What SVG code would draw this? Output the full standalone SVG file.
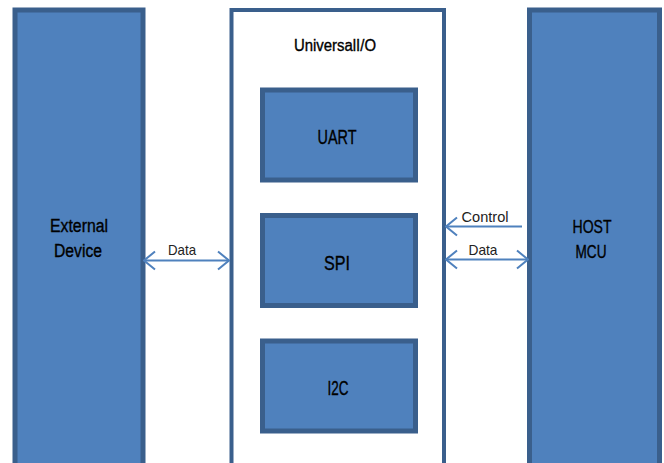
<svg xmlns="http://www.w3.org/2000/svg" width="664" height="463" viewBox="0 0 664 463">
<defs>
<style>
.blk{fill:#4F81BD;stroke:#3A5F8C;stroke-width:5}
.wht{fill:#FFFFFF;stroke:#3A5F8C;stroke-width:4}
.t{font-family:"Liberation Sans Narrow","Liberation Sans",Arial,sans-serif;fill:#000;text-anchor:middle;stroke:#000;stroke-width:0.35}
.lbl{font-family:"Liberation Sans Narrow","Liberation Sans",Arial,sans-serif;fill:#222;text-anchor:middle;font-size:15px}
.con{stroke:#4F81BD;stroke-width:2;fill:none}
</style>
<marker id="ah" markerUnits="userSpaceOnUse" markerWidth="14" markerHeight="22" viewBox="-13 -11 14 22" refX="0" refY="0" orient="auto-start-reverse">
<path d="M-11,-9 L0,0 L-11,9" fill="none" stroke="#4F81BD" stroke-width="2"/>
</marker>
</defs>
<g id="external-device">
<rect class="blk" x="15" y="10" width="128" height="460"/>
<text class="t" x="79" y="232" font-size="18" textLength="58" lengthAdjust="spacingAndGlyphs">External</text>
<text class="t" x="78" y="257" font-size="18" textLength="48" lengthAdjust="spacingAndGlyphs">Device</text>
</g>
<g id="universal-io">
<rect class="wht" x="231.5" y="10" width="212.5" height="460"/>
<text class="t" x="335" y="51" font-size="16" textLength="82" lengthAdjust="spacingAndGlyphs">UniversalI/O</text>
</g>
<g id="uart">
<rect class="blk" x="262.5" y="90" width="153" height="90"/>
<text class="t" x="337" y="144" font-size="20" textLength="39" lengthAdjust="spacingAndGlyphs">UART</text>
</g>
<g id="spi">
<rect class="blk" x="262.5" y="215.5" width="153" height="90"/>
<text class="t" x="337" y="269.5" font-size="20" textLength="26" lengthAdjust="spacingAndGlyphs">SPI</text>
</g>
<g id="i2c">
<rect class="blk" x="262.5" y="341" width="153" height="90"/>
<text class="t" x="338" y="395" font-size="20" textLength="21" lengthAdjust="spacingAndGlyphs">I2C</text>
</g>
<g id="host-mcu">
<rect class="blk" x="529.5" y="10" width="130" height="460"/>
<text class="t" x="592" y="233" font-size="18.5" textLength="39" lengthAdjust="spacingAndGlyphs">HOST</text>
<text class="t" x="591" y="257.5" font-size="18.5" textLength="31" lengthAdjust="spacingAndGlyphs">MCU</text>
</g>
<g id="connectors">
<line class="con" x1="144" y1="260.5" x2="229" y2="260.5" marker-start="url(#ah)" marker-end="url(#ah)"/>
<text class="lbl" x="182" y="254.5" textLength="28" lengthAdjust="spacingAndGlyphs">Data</text>
<line class="con" x1="522" y1="226.5" x2="446" y2="226.5" marker-end="url(#ah)"/>
<text class="lbl" x="485" y="221.5" textLength="47" lengthAdjust="spacingAndGlyphs">Control</text>
<line class="con" x1="446" y1="259.5" x2="528" y2="259.5" marker-start="url(#ah)" marker-end="url(#ah)"/>
<text class="lbl" x="483" y="254.5" textLength="29" lengthAdjust="spacingAndGlyphs">Data</text>
</g>
</svg>
